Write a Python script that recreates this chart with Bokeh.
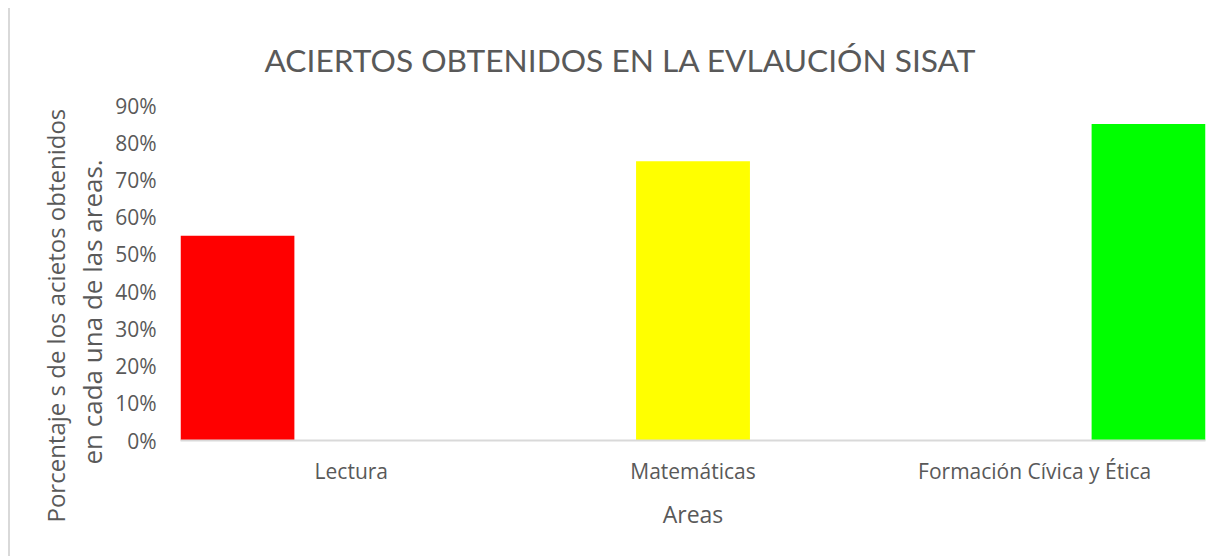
import math
from bokeh.plotting import figure
from bokeh.models import FactorRange, Range1d, FixedTicker, NumeralTickFormatter, Title
from bokeh.transform import dodge
from bokeh.embed import file_html
from bokeh.resources import INLINE

categories = ["Lectura", "Matemáticas", "Formación Cívica y Ética"]
values = [0.55, 0.75, 0.85]
colors = ["#ff0000", "#ffff00", "#00ff00"]
y_ticks = [0.0, 0.1, 0.2, 0.3, 0.4, 0.5, 0.6, 0.7, 0.8, 0.9]

title_text = "ACIERTOS OBTENIDOS EN LA EVLAUCIÓN SISAT"
ylabel_1 = "Porcentaje s de los acietos obtenidos"
ylabel_2 = "en cada una de las areas."
xlabel = "Areas"

FONT = "Open Sans"
TFONT = "Lato"
GRAY = "#595959"

p = figure(width=1214, height=548, x_range=FactorRange(factors=categories),
           y_range=Range1d(0, 0.9), output_backend="svg", toolbar_location=None,
           min_border_left=170, min_border_right=19, min_border_top=97, min_border_bottom=116)
p.styles = {"border-left": "2px solid #d9d9d9", "margin-left": "8px", "margin-top": "8px"}
p.outline_line_color = None
p.xgrid.grid_line_color = None
p.ygrid.grid_line_color = None

n = len(categories)
for i, (cat, v, c) in enumerate(zip(categories, values, colors)):
    p.vbar(x=dodge("x", (i - (n - 1) / 2) / n, range=p.x_range), top="top", width=1 / n,
           source={"x": [cat], "top": [v]}, fill_color=c, line_color=None)

p.yaxis.ticker = FixedTicker(ticks=y_ticks)
p.yaxis.formatter = NumeralTickFormatter(format="0%")
p.yaxis.axis_line_color = None
p.yaxis.major_tick_line_color = None
p.yaxis.minor_tick_line_color = None
p.yaxis.major_label_text_font = FONT
p.yaxis.major_label_text_font_size = "21px"
p.yaxis.major_label_text_color = GRAY
p.yaxis.major_label_standoff = 18

p.xaxis.axis_line_color = "#d9d9d9"
p.xaxis.axis_line_width = 2
p.xaxis.major_tick_line_color = None
p.xaxis.minor_tick_line_color = None
p.xaxis.major_label_text_font = FONT
p.xaxis.major_label_text_font_size = "21px"
p.xaxis.major_label_text_color = GRAY
p.xaxis.major_label_standoff = 10
p.xaxis.axis_label = xlabel
p.xaxis.axis_label_text_font = FONT
p.xaxis.axis_label_text_font_size = "23px"
p.xaxis.axis_label_text_font_style = "normal"
p.xaxis.axis_label_text_color = GRAY
p.xaxis.axis_label_standoff = 10

p.title = Title(text=title_text, align="left", offset=84, text_font=TFONT,
                text_font_size="31.7px", text_font_style="normal", text_color=GRAY,
                standoff=54)

p.add_layout(Title(text=ylabel_2, align="left", offset=-24, text_font=FONT,
                   text_font_size="26px", text_font_style="normal", text_color=GRAY,
                   standoff=6), "left")
p.add_layout(Title(text=ylabel_1, align="left", offset=-82, text_font=FONT,
                   text_font_size="24px", text_font_style="normal", text_color=GRAY,
                   standoff=-7), "left")

open("out.html", "w").write(file_html(p, INLINE))
